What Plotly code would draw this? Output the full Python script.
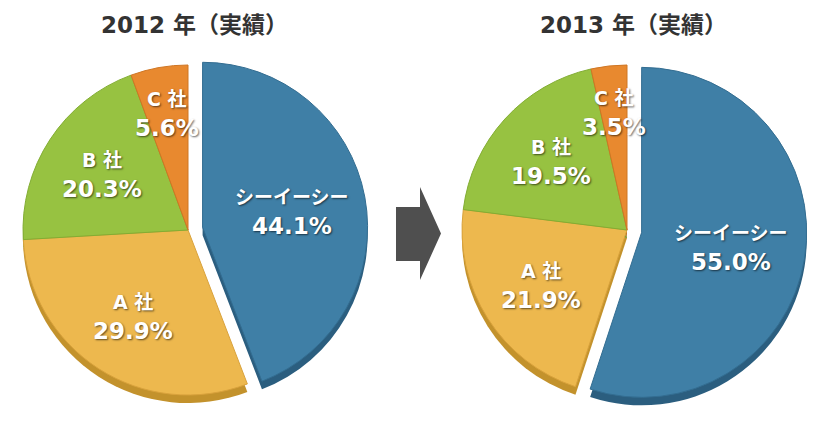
import math
import plotly.graph_objects as go

# ---- data ----
chart_titles = ["2012 年（実績）", "2013 年（実績）"]
companies = ["シーイーシー", "A 社", "B 社", "C 社"]
share_2012 = [44.1, 29.9, 20.3, 5.6]
share_2013 = [55.0, 21.9, 19.5, 3.5]
pull_out = [0.09, 0, 0, 0]

# ---- style / layout constants ----
W, H = 820, 422
PAGE_OFF = 8  # default body margin of the html page
face_colors = ["#3F7FA6", "#EDB84E", "#97C241", "#E8892F"]
edge_colors = ["#336D91", "#D9A23C", "#82AD33", "#CF7624"]
side_colors = ["#2B5E7F", "#C3922C", "#6A9627", "#B4631B"]
R = 165
DEPTH = 8
centers = [(188, 230), (627, 230)]      # page pixel positions
title_pos = [(194, 25), (633, 25)]
LABEL_FONT = "DejaVu Sans, Noto Sans CJK JP, sans-serif"
TITLE_FONT = "DejaVu Sans, Noto Sans CJK JP, sans-serif"


def px(x):
    return (x - PAGE_OFF) / W


def py(y):
    return 1 - (y - PAGE_OFF) / H


fig = go.Figure()


def dom(cx, cy, r, pull):
    half = r * (1 + pull)
    x0 = max(0.0, px(cx - half))
    y0 = max(0.0, py(cy + half))
    return dict(x=[x0, px(cx + half)], y=[y0, py(cy - half)])


def add_pie(vals, cx, cy):
    mp = max(pull_out)
    common = dict(values=vals, labels=companies, sort=False, direction="clockwise",
                  rotation=0, pull=pull_out, textinfo="none", hoverinfo="skip",
                  showlegend=False)
    # side wall (3D depth)
    fig.add_trace(go.Pie(marker=dict(colors=side_colors, line=dict(width=0)),
                         domain=dom(cx, cy + DEPTH, R, mp), **common))
    # top face
    fig.add_trace(go.Pie(marker=dict(colors=face_colors,
                                     line=dict(color=edge_colors, width=1)),
                         domain=dom(cx, cy, R, mp), **common))
    total = sum(vals)
    cum = 0.0
    for name, v, p in zip(companies, vals, pull_out):
        mid = (cum + v / 2) / total * 2 * math.pi
        cum += v
        share = v / total
        frac = 0.72 if share < 0.1 else (0.55 if p > 0 else 0.62)
        d = R * (frac + p)
        lx = cx + d * math.sin(mid)
        ly = cy - d * math.cos(mid)
        shadow = "1px 1px 2px rgba(0,0,0,0.6)"
        fig.add_annotation(x=px(lx), y=py(ly - 14), xref="paper", yref="paper",
                           text=f"<b>{name}</b>", showarrow=False,
                           xanchor="center", yanchor="middle",
                           font=dict(family=LABEL_FONT, size=19, color="white",
                                     shadow=shadow))
        fig.add_annotation(x=px(lx), y=py(ly + 15), xref="paper", yref="paper",
                           text=f"<b>{v:.1f}%</b>", showarrow=False,
                           xanchor="center", yanchor="middle",
                           font=dict(family=LABEL_FONT, size=23, color="white",
                                     shadow=shadow))


for vals, (cx, cy) in zip([share_2012, share_2013], centers):
    add_pie(vals, cx, cy)

for t, (tx, ty) in zip(chart_titles, title_pos):
    fig.add_annotation(x=px(tx), y=py(ty), xref="paper", yref="paper",
                       text=f"<b>{t}</b>", showarrow=False,
                       xanchor="center", yanchor="middle",
                       font=dict(family=TITLE_FONT, size=23, color="#333333"))

# arrow between the pies
arrow_pts = [(396, 207), (420, 207), (420, 187), (441, 233.5), (420, 280), (420, 261), (396, 261)]
path = "M " + " L ".join(f"{px(x):.5f},{py(y):.5f}" for x, y in arrow_pts) + " Z"
fig.add_shape(type="path", path=path, xref="paper", yref="paper",
              fillcolor="#4F4F4F", line=dict(width=0))

fig.update_layout(width=W, height=H, margin=dict(l=0, r=0, t=0, b=0),
                  paper_bgcolor="white", plot_bgcolor="white", showlegend=False)

fig.write_html("out.html")
